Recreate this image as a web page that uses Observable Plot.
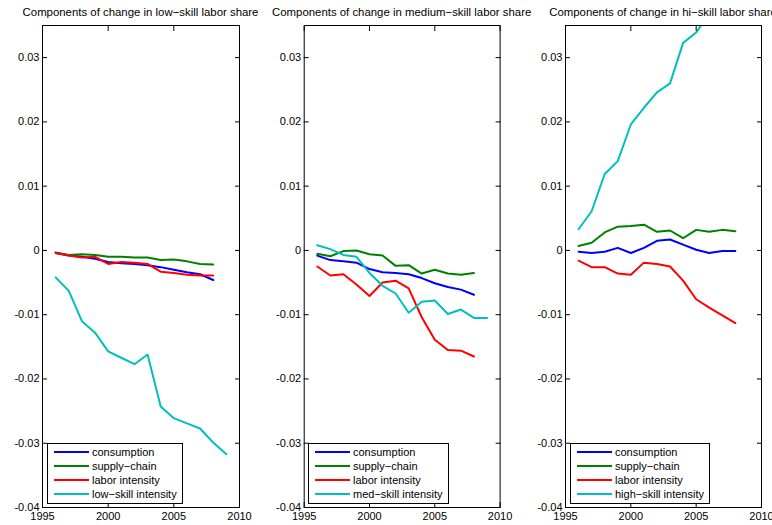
<!DOCTYPE html>
<html><head><meta charset="utf-8">
<script src="https://cdn.jsdelivr.net/npm/d3@7"></script>
<script src="https://cdn.jsdelivr.net/npm/@observablehq/plot@0.6"></script>
<style>
body{margin:0;background:#fff;font-family:"Liberation Sans",Arial,Helvetica,sans-serif;}
#wrap{position:relative;width:772px;height:525px;overflow:hidden;background:#fff;}
.panel{position:absolute;top:0;}
.panel svg{overflow:visible;}
.title{position:absolute;top:6px;font-size:11.4px;line-height:13px;white-space:nowrap;transform:translateX(-50%);color:#000;}
.legend{position:absolute;border:1px solid #000;background:#fff;font-size:11px;padding:1px 4px 2px 0;box-sizing:border-box;color:#000;}
.row{height:14px;line-height:14px;display:flex;align-items:center;white-space:nowrap;}
.sw{width:35px;height:2px;margin-left:6px;margin-right:3px;flex:none;}
</style>
</head><body>
<div id="wrap"></div>
<script>
// ---- data ----
const years = [1996, 1997, 1998, 1999, 2000, 2001, 2002, 2003, 2004, 2005, 2006, 2007, 2008, 2009];

const titles = [
  "Components of change in low\u2212skill labor share",
  "Components of change in medium\u2212skill labor share",
  "Components of change in hi\u2212skill labor share"
];
const seriesNames = ["consumption", "supply\u2212chain", "labor intensity"];
const intensityNames = ["low\u2212skill intensity", "med\u2212skill intensity", "high\u2212skill intensity"];
const seriesColors = ["#0000ff", "#008000", "#ff0000", "#00bfbf"];

const xTicks = [1995, 2000, 2005, 2010];
const yTicks = [-0.04, -0.03, -0.02, -0.01, 0, 0.01, 0.02, 0.03];

// low-skill panel
const lowConsumption = [-0.0004, -0.0008, -0.0010, -0.0013, -0.0018, -0.0020, -0.0021, -0.0023, -0.0026, -0.0030, -0.0034, -0.0037, -0.0046];
const lowSupply      = [-0.0003, -0.0007, -0.0006, -0.0007, -0.0010, -0.0010, -0.0011, -0.0011, -0.0015, -0.0014, -0.0017, -0.0021, -0.0022];
const lowLabor       = [-0.0004, -0.0008, -0.0011, -0.0010, -0.0021, -0.0018, -0.0019, -0.0021, -0.0033, -0.0035, -0.0038, -0.0039, -0.0039];
const lowIntensity   = [-0.0042, -0.0063, -0.0110, -0.0128, -0.0157, -0.0167, -0.0177, -0.0162, -0.0243, -0.0261, -0.0269, -0.0277, -0.0299, -0.0317];

// medium-skill panel
const medConsumption = [-0.0008, -0.0015, -0.0017, -0.0019, -0.0029, -0.0034, -0.0035, -0.0037, -0.0043, -0.0051, -0.0057, -0.0061, -0.0069];
const medSupply      = [-0.0005, -0.0009, -0.0001, 0.0000, -0.0006, -0.0008, -0.0024, -0.0023, -0.0036, -0.0030, -0.0036, -0.0038, -0.0035];
const medLabor       = [-0.0025, -0.0039, -0.0037, -0.0053, -0.0071, -0.0050, -0.0047, -0.0059, -0.0104, -0.0139, -0.0155, -0.0156, -0.0165];
const medIntensity   = [0.0008, 0.0002, -0.0007, -0.0010, -0.0035, -0.0055, -0.0067, -0.0097, -0.0080, -0.0078, -0.0099, -0.0092, -0.0105, -0.0105];

// high-skill panel
const hiConsumption = [-0.0002, -0.0004, -0.0002, 0.0004, -0.0004, 0.0004, 0.0015, 0.0017, 0.0009, 0.0001, -0.0004, -0.0001, -0.0001];
const hiSupply      = [0.0007, 0.0012, 0.0028, 0.0037, 0.0038, 0.0040, 0.0029, 0.0031, 0.0019, 0.0032, 0.0029, 0.0032, 0.0030];
const hiLabor       = [-0.0016, -0.0026, -0.0026, -0.0036, -0.0038, -0.0019, -0.0021, -0.0025, -0.0047, -0.0076, -0.0089, -0.0101, -0.0113];
const hiIntensity   = [0.0033, 0.0061, 0.0119, 0.0139, 0.0196, 0.0222, 0.0246, 0.0260, 0.0323, 0.0339, 0.0369];

// ---- layout ----
const panels = [
  {left: 0,   width: 260, ml: 42,   mr: 21,   series: [lowConsumption, lowSupply, lowLabor, lowIntensity], legend: {left: 47, top: 443, width: 136}},
  {left: 260, width: 260, ml: 43.7, mr: 20.4, series: [medConsumption, medSupply, medLabor, medIntensity], legend: {left: 308, top: 443, width: 141}},
  {left: 520, width: 252, ml: 45,   mr: 11,   series: [hiConsumption, hiSupply, hiLabor, hiIntensity], legend: {left: 570, top: 443, width: 140}}
];

const wrap = document.getElementById("wrap");
const fmt = d => d === 0 ? "0" : d.toFixed(2);

panels.forEach((p, pi) => {
  const names = [...seriesNames, intensityNames[pi]];
  const lines = p.series.map((vals, si) =>
    Plot.line(vals.map((v, i) => ({year: years[i], value: v})),
      {x: "year", y: "value", stroke: seriesColors[si], strokeWidth: 2, clip: true})
  );
  const chart = Plot.plot({
    width: p.width, height: 525,
    marginLeft: p.ml, marginRight: p.mr, marginTop: 25, marginBottom: 18,
    style: {fontFamily: "'Liberation Sans', Arial, Helvetica, sans-serif", fontSize: "11px", background: "transparent", overflow: "visible", color: "#000"},
    x: {domain: [1995, 2010], label: null},
    y: {domain: [-0.04, 0.035], label: null},
    marks: [
      ...lines,
      Plot.axisX(xTicks, {anchor: "bottom", tickSize: -5, tickPadding: 10, tickFormat: d => String(d), label: null}),
      Plot.axisX(xTicks, {anchor: "top", tickSize: -5, tickFormat: () => "", label: null}),
      Plot.axisY(yTicks, {anchor: "left", tickSize: -5, tickPadding: 8, tickFormat: fmt, label: null}),
      Plot.axisY(yTicks, {anchor: "right", tickSize: -5, tickFormat: () => "", label: null}),
      Plot.frame({stroke: "#000", strokeWidth: 1})
    ]
  });
  const div = document.createElement("div");
  div.className = "panel";
  div.style.left = p.left + "px";
  div.appendChild(chart);
  wrap.appendChild(div);

  const t = document.createElement("div");
  t.className = "title";
  t.textContent = titles[pi];
  t.style.left = (p.left + p.ml + (p.width - p.ml - p.mr) / 2) + "px";
  wrap.appendChild(t);

  const lg = document.createElement("div");
  lg.className = "legend";
  lg.style.left = p.legend.left + "px";
  lg.style.top = p.legend.top + "px";
  lg.style.width = p.legend.width + "px";
  names.forEach((n, i) => {
    const r = document.createElement("div");
    r.className = "row";
    const sw = document.createElement("span");
    sw.className = "sw";
    sw.style.background = seriesColors[i];
    const tx = document.createElement("span");
    tx.textContent = n;
    r.appendChild(sw); r.appendChild(tx);
    lg.appendChild(r);
  });
  wrap.appendChild(lg);
});
</script>
</body></html>
